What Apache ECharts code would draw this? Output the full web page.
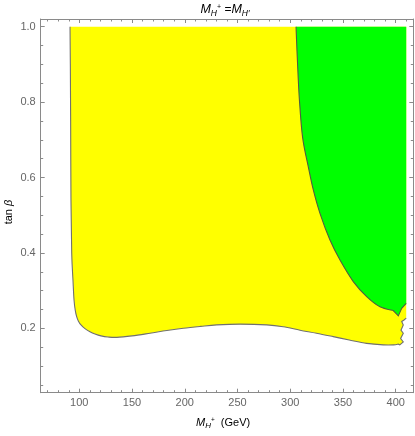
<!DOCTYPE html>
<html>
<head>
<meta charset="utf-8">
<script src="https://cdn.jsdelivr.net/npm/echarts@6/dist/echarts.min.js"></script>
<style>
html,body{margin:0;padding:0;background:#fff;}
#chart{width:415px;height:436px;}
</style>
</head>
<body>
<div id="chart"></div>
<script>
// ---- data ----
// yellow allowed region: smooth boundary (M_H+, tan beta)
const yellowSmooth = [
  [91.2, 1.0], [91.5, 0.90], [91.8, 0.75], [92.1, 0.54], [92.8, 0.40],
  [94.0, 0.328], [95.0, 0.275], [96.1, 0.249], [97.5, 0.231], [99.2, 0.219],
  [101.6, 0.209], [105.4, 0.199], [110.1, 0.191], [114.9, 0.185], [120.6, 0.180],
  [127.2, 0.177], [135.5, 0.176], [150, 0.180], [167.0, 0.187], [183, 0.194],
  [198.6, 0.200], [215, 0.205], [230.3, 0.209], [252.4, 0.211], [277.7, 0.209],
  [293.4, 0.204], [309.3, 0.195], [325, 0.187], [340.8, 0.178], [356, 0.169],
  [372.5, 0.160], [388.2, 0.156], [398, 0.156], [402.5, 0.158]
];
// yellow region: ragged right end of the boundary
const yellowRagged = [
  [403.9, 0.156], [407.2, 0.164], [404.7, 0.173], [407.2, 0.187], [405.0, 0.195],
  [407.2, 0.209], [405.7, 0.218], [407.9, 0.222], [410, 0.227]
];
// green region: smooth boundary
const greenSmooth = [
  [305.5, 1.0], [306.8, 0.911], [308.7, 0.806], [311.8, 0.705], [317.1, 0.629],
  [321.9, 0.567], [328.2, 0.505], [337.7, 0.434], [347.2, 0.381], [359.8, 0.324],
  [372.5, 0.284], [385.1, 0.257], [397.7, 0.247]
];
// green region: tip at the right end
const greenRagged = [
  [402.5, 0.233], [405.7, 0.253], [410, 0.266]
];
const regionTopRight = [410, 1.0];
// ticks
const xMajorTicks = [100, 150, 200, 250, 300, 350, 400];
const xMinorTicks = [70, 80, 90, 110, 120, 130, 140, 160, 170, 180, 190, 210, 220, 230, 240,
  260, 270, 280, 290, 310, 320, 330, 340, 360, 370, 380, 390, 410];
const yMajorTicks = [0.2, 0.4, 0.6, 0.8, 1.0];
const yMinorTicks = [0.05, 0.1, 0.15, 0.25, 0.3, 0.35, 0.45, 0.5, 0.55, 0.65, 0.7, 0.75, 0.85, 0.9, 0.95];

const X_MIN = 63.4, X_MAX = 416.7, Y_MIN = 0.0292, Y_MAX = 1.0204;
const AX = '#8a8a8a';
const FONT = 'Liberation Sans';

// build an svg path: smooth (Catmull-Rom rendered as cubic bezier) then straight segments
function boundaryPath(sm, rg) {
  const f = p => p[0].toFixed(2) + ',' + p[1].toFixed(2);
  let d = 'M' + f(sm[0]);
  for (let i = 0; i < sm.length - 1; i++) {
    const p0 = sm[Math.max(i - 1, 0)], p1 = sm[i], p2 = sm[i + 1], p3 = sm[Math.min(i + 2, sm.length - 1)];
    const c1 = [p1[0] + (p2[0] - p0[0]) / 6, p1[1] + (p2[1] - p0[1]) / 6];
    const c2 = [p2[0] - (p3[0] - p1[0]) / 6, p2[1] - (p3[1] - p1[1]) / 6];
    d += ' C' + f(c1) + ' ' + f(c2) + ' ' + f(p2);
  }
  rg.forEach(p => { d += ' L' + f(p); });
  return d;
}

function regionRenderer(smooth, ragged, fill, stroke) {
  return function (params, api) {
    if (params.dataIndex !== 0) return null;
    const sm = smooth.map(p => api.coord(p));
    const rg = ragged.map(p => api.coord(p));
    const edge = boundaryPath(sm, rg);
    const tr = api.coord(regionTopRight);
    const closed = edge + ' L' + tr[0].toFixed(2) + ',' + tr[1].toFixed(2) + ' Z';
    return {
      type: 'group',
      children: [
        { type: 'path', shape: { pathData: closed }, style: { fill: fill, stroke: null } },
        { type: 'path', shape: { pathData: edge }, style: { fill: null, stroke: stroke, lineWidth: 1.1 } }
      ]
    };
  };
}

function xAx(pos, values, len, withLine, withLabel) {
  return {
    type: 'value', position: pos, min: X_MIN, max: X_MAX,
    axisLine: { show: withLine, lineStyle: { color: AX, width: 1 } },
    axisTick: { show: true, inside: true, length: len, customValues: values, lineStyle: { color: AX } },
    axisLabel: withLabel ? { show: true, customValues: values, color: '#666', fontFamily: FONT, fontSize: 11, margin: 5 } : { show: false },
    splitLine: { show: false }
  };
}
function yAx(pos, values, len, withLine, withLabel) {
  return {
    type: 'value', position: pos, min: Y_MIN, max: Y_MAX,
    axisLine: { show: withLine, lineStyle: { color: AX, width: 1 } },
    axisTick: { show: true, inside: true, length: len, customValues: values, lineStyle: { color: AX } },
    axisLabel: withLabel ? { show: true, customValues: values, color: '#666', fontFamily: FONT, fontSize: 11, margin: 5,
      formatter: v => v.toFixed(1) } : { show: false },
    splitLine: { show: false }
  };
}

const xAxes = [
  xAx('bottom', xMajorTicks, 4, true, true),
  xAx('bottom', xMinorTicks, 2.5, false, false),
  xAx('top', xMajorTicks, 4, true, false),
  xAx('top', xMinorTicks, 2.5, false, false)
];
const yAxes = [
  yAx('left', yMajorTicks, 4, true, true),
  yAx('left', yMinorTicks, 2.5, false, false),
  yAx('right', yMajorTicks, 4, true, false),
  yAx('right', yMinorTicks, 2.5, false, false)
];

const chart = echarts.init(document.getElementById('chart'), null, { renderer: 'canvas' });
chart.setOption({
  animation: false,
  backgroundColor: '#fff',
  grid: { left: 40.7, right: 1.7, top: 19, bottom: 43.3, containLabel: false },
  xAxis: xAxes,
  yAxis: yAxes,
  graphic: [
    {
      type: 'text', x: 0, y: 0,
      style: {
        text: '{m|M}{s|H}{p|+} ={m|M}{s|H′}',
        x: 225, y: 10, textAlign: 'center', textVerticalAlign: 'middle',
        rich: {
          m: { fontFamily: FONT, fontStyle: 'italic', fontSize: 12.5, color: '#555', lineHeight: 16, verticalAlign: 'middle' },
          s: { fontFamily: FONT, fontStyle: 'italic', fontSize: 8.5, color: '#555', lineHeight: 9, verticalAlign: 'bottom' },
          p: { fontFamily: FONT, fontSize: 7, color: '#555', lineHeight: 16, verticalAlign: 'top', padding: [2, 0, 0, 0] }
        }
      }
    },
    {
      type: 'text', left: 196, top: 415,
      style: {
        text: '{m|M}{s|H}{p|+}{t|  (GeV)}',
        rich: {
          m: { fontFamily: FONT, fontStyle: 'italic', fontSize: 11, color: '#555', lineHeight: 15, verticalAlign: 'middle' },
          s: { fontFamily: FONT, fontStyle: 'italic', fontSize: 8, color: '#555', lineHeight: 8, verticalAlign: 'bottom' },
          p: { fontFamily: FONT, fontSize: 6.5, color: '#555', lineHeight: 15, verticalAlign: 'top', padding: [2, 0, 0, 0] },
          t: { fontFamily: FONT, fontSize: 11, color: '#555', lineHeight: 15, verticalAlign: 'middle' }
        }
      }
    },
    {
      type: 'text', x: 8.5, y: 212, rotation: Math.PI / 2,
      style: {
        text: '{t|tan }{b|β}', textAlign: 'center', textVerticalAlign: 'middle',
        rich: {
          t: { fontFamily: FONT, fontSize: 11, color: '#555' },
          b: { fontFamily: FONT, fontStyle: 'italic', fontSize: 11, color: '#555' }
        }
      }
    }
  ],
  series: [
    {
      type: 'custom', xAxisIndex: 0, yAxisIndex: 0, clip: true,
      data: yellowSmooth.concat(yellowRagged),
      renderItem: regionRenderer(yellowSmooth, yellowRagged, '#ffff00', '#707070'),
      silent: true, z: 1
    },
    {
      type: 'custom', xAxisIndex: 0, yAxisIndex: 0, clip: true,
      data: greenSmooth.concat(greenRagged),
      renderItem: regionRenderer(greenSmooth, greenRagged, '#00ff00', '#4f5f3f'),
      silent: true, z: 2
    }
  ]
});
</script>
</body>
</html>
